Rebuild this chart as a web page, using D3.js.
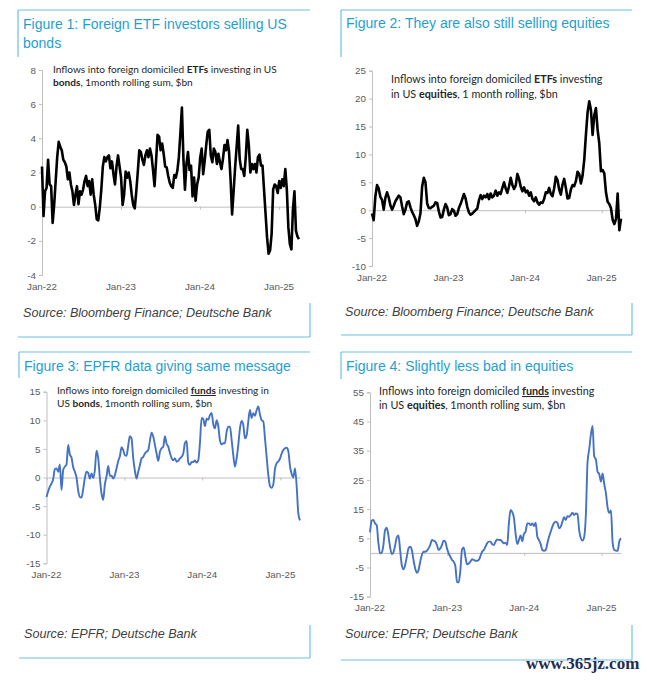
<!DOCTYPE html>
<html><head><meta charset="utf-8">
<script src="https://cdn.jsdelivr.net/npm/d3@7/dist/d3.min.js"></script>
<style>body{margin:0;background:#fff;} svg{display:block;}</style>
</head><body><svg id="c" width="648" height="680"></svg>
<script>
// ---------- DATA ----------
const startDate = new Date(2022, 0, 1);
const endDate = new Date(2025, 3, 3);
const xTickLabels = ["Jan-22", "Jan-23", "Jan-24", "Jan-25"];
const xTickDates = [new Date(2022,0,1), new Date(2023,0,1), new Date(2024,0,1), new Date(2025,0,1)];

const panelTitles = [
  ["Figure 1: Foreign ETF investors selling US", "bonds"],
  ["Figure 2: They are also still selling equities"],
  ["Figure 3: EPFR data giving same message"],
  ["Figure 4: Slightly less bad in equities"]
];
const panelSources = [
  "Source: Bloomberg Finance; Deutsche Bank",
  "Source: Bloomberg Finance; Deutsche Bank",
  "Source: EPFR; Deutsche Bank",
  "Source: EPFR; Deutsche Bank"
];

const yTicksEtfBonds = [-4, -2, 0, 2, 4, 6, 8];
const yTicksEtfEquities = [-10, -5, 0, 5, 10, 15, 20, 25];
const yTicksFundBonds = [-15, -10, -5, 0, 5, 10, 15];
const yTicksFundEquities = [-15, -5, 5, 15, 25, 35, 45, 55];

// Figure 1: foreign ETFs, US bonds, 1m rolling sum $bn (weekly readings)
const etfBondFlows = [
  2.35,-0.55,0.9,1.1,2.75,1.3,1.2,-0.95,0.1,1.5,
  2.9,3.8,3.5,3.3,2.75,2.6,2.35,1.6,2.0,1.3,
  0.9,0.1,0.7,1.2,0.15,0.9,0.7,1.0,1.5,1.8,
  1.2,1.5,0.7,1.6,0.7,0.1,-0.75,-0.8,-0.05,1.0,
  2.35,2.9,2.65,2.9,3.0,2.25,2.65,1.9,1.3,2.35,
  3.0,2.35,1.7,0.1,0.7,2.05,1.7,2.0,1.5,0.7,
  0.1,-0.1,0.9,2.05,3.3,3.2,2.75,2.45,3.0,3.3,
  2.9,3.4,3.0,2.15,1.2,2.65,4.2,4.1,3.3,3.7,
  3.1,2.35,
  2.3,1.8,1.4,1.2,1.1,1.85,1.7,2.1,2.9,4.3,
  5.8,2.8,1.0,2.5,3.2,2.15,2.4,0.6,1.7,0.35,
  1.3,1.7,2.85,3.4,1.9,2.7,3.6,4.4,4.5,3.0,
  2.6,3.4,3.2,2.5,3.1,2.6,2.2,2.8,3.6,3.3,
  3.9,3.2,1.6,-0.45,0.9,2.3,3.5,4.75,2.8,2.2,
  2.2,1.8,2.9,4.5,3.6,2.0,2.5,2.2,2.5,2.0,
  2.9,3.05,2.4,2.4,1.0,-0.4,-1.8,-2.75,-2.55,-1.6,
  1.0,1.3,1.2,0.8,1.5,1.1,1.6,1.2,2.2,1.0,
  -1.2,-2.2,-2.5,-0.2,0.9,-1.4,-1.75,-1.9
];

// Figure 2: foreign ETFs, US equities, 1m rolling $bn
const etfEquityFlows = [
  -0.6,-1.8,2.4,4.5,3.9,2.4,1.85,0.1,2.2,3.2,
  2.3,0.9,0.1,0.8,1.6,2.1,2.6,2.3,0.7,-0.7,
  0.1,1.4,1.6,0.5,-0.3,-0.9,-1.6,-2.8,-2.0,-0.55,
  4.25,5.8,5.0,1.2,0.4,0.35,0.6,0.8,1.4,1.3,
  -0.2,-1.3,-1.2,0.1,1.1,0.5,-0.9,-0.7,0.2,-0.1,
  -1.0,-0.7,0.4,1.1,2.0,2.9,2.1,0.6,-0.4,-0.8,
  -0.6,-0.3,0,0.3,1.8,2.7,2.0,2.6,2.3,2.9,
  2.0,3.0,2.3,2.6,3.5,2.6,3.2,2.9,4.0,5.0,
  3.9,3.1,4.3,5.8,4.5,3.8,4.4,6.5,5.6,4.2,
  3.4,4.1,3.2,3.5,2.6,3.2,2.0,1.6,2.3,1.4,
  1.0,1.4,1.3,2.0,3.2,3.1,4.0,2.9,2.5,3.9,
  6.0,5.4,3.7,2.8,4.6,5.6,4.0,2.1,2.2,3.7,
  4.5,4.3,5.2,6.9,6.5,4.8,6.2,9.0,13.5,17.5,
  19.5,18.0,13.5,17.0,18.3,14.4,12.0,7.0,7.2,6.6,
  3.2,1.5,1.1,0.35,-1.7,-2.5,-1.6,3.0,-3.6,-1.5
];

// Figure 3: EPFR foreign funds, US bonds, 1m rolling sum $bn
const fundBondFlows = [
  -3.4,-2.4,-1.6,-1.05,-0.3,1.5,1.6,1.0,2.3,-2.2,
  1.3,1.9,2.3,5.7,4.0,3.5,1.8,1.0,0.0,-2.3,
  -3.4,-3.5,-2.0,-0.1,1.0,0.8,-0.2,0.7,-0.1,1.3,
  4.7,3.4,-0.1,-2.8,-3.9,-1.2,0.2,2.0,0.3,0.3,
  -0.2,0.4,1.6,2.9,3.7,5.3,4.8,3.9,3.8,5.6,
  7.2,6.8,3.4,1.2,-0.2,1.0,2.15,3.35,3.6,4.2,
  4.5,4.8,6.4,7.85,7.15,5.7,4.2,2.9,4.5,5.1,
  5.4,7.2,5.9,5.4,4.3,3.4,3.0,
  3.35,2.75,2.9,3.35,3.6,4.2,6.0,6.4,2.6,2.2,
  2.7,2.7,3.0,2.6,3.0,6.0,10.4,10.2,9.0,10.3,
  10.1,10.9,11.3,9.3,8.6,10.0,9.0,6.5,5.8,6.0,
  6.0,8.0,8.9,8.9,6.6,3.9,1.9,3.35,5.7,8.6,
  9.9,9.2,6.85,7.4,9.8,11.8,10.4,11.25,10.8,11.8,
  12.4,11.0,10.0,9.8,6.85,3.6,0.4,-1.5,-1.8,-1.2,
  1.5,2.5,2.8,3.3,4.2,4.8,5.1,5.2,4.6,2.0,
  0.6,0.0,1.6,-1.5,-6.3,-7.5
];

// Figure 4: EPFR foreign funds, US equities, 1m rolling sum $bn
const fundEquityFlows = [
  7.0,11.0,11.3,10.1,9.5,3.5,-0.15,0.1,2.7,7.8,
  8.6,6.0,2.0,-0.4,0.2,2.5,5.3,6.0,1.0,-4.15,
  -5.6,-4.15,-1.3,1.55,2.1,1.0,-2.4,-5.3,-6.8,-5.9,
  -3.0,-0.7,0.4,0.4,0.75,1.55,2.7,4.4,4.2,3.85,
  2.7,1.0,1.55,2.7,4.2,3.85,1.55,-0.15,-1.3,-2.4,
  -3.0,-4.5,-10.0,-10.1,-6.0,1.2,1.9,-1.3,-3.9,-3.6,
  -3.0,-2.2,-2.4,-2.7,-2.7,-2.4,-1.1,0.4,1.0,2.1,
  3.3,3.85,3.85,3.0,2.7,3.85,4.6,4.4,4.4,3.85,
  3.3,3.5,2.7,10.1,14.7,14.0,12.0,6.7,3.0,4.4,
  6.0,4.0,6.5,7.3,10.1,10.1,9.5,10.1,9.2,10.3,
  5.5,4.4,3.0,1.0,0.75,1.0,3.3,5.5,7.3,9.0,
  10.3,10.7,10.3,8.4,9.0,10.7,12.2,11.3,12.6,12.4,
  13.0,13.8,13.0,13.5,13.3,7.8,5.0,4.2,5.5,13.0,
  31.0,35.5,40.5,43.5,33.0,32.0,27.8,27.0,24.4,27.2,
  23.5,20.4,15.5,13.7,14.5,3.5,1.0,0.8,0.7,4.0,
  5.0
];

// ---------- DRAWING ----------
const svg = d3.select("#c");
svg.append("rect").attr("width", 648).attr("height", 680).attr("fill", "#fff");

const FRAME = "#6cc2e2", TITLE = "#1f9fd2", AXIS = "#bfbfbf", TICKTXT = "#595959";

const panels = [
  { values: etfBondFlows, ticks: yTicksEtfBonds, color: "#000", width: 2.6, curve: d3.curveLinear,
    xr: [42, 299], yr: [275, 70], frame: {x0: 18, x1: 310, top: 10, leftBot: 57, bottom: 337, rightTop: 303},
    titleX: 23, titleY: [29, 48], srcY: 317,
    ann: {x: 53, y: [73, 85.5], size: 10.1, lines: [
      [["Inflows into foreign domiciled ", 0], ["ETFs", 1], [" investing in US", 0]],
      [["bonds", 1], [", 1month rolling sum, $bn", 0]]]} },
  { values: etfEquityFlows, ticks: yTicksEtfEquities, color: "#000", width: 2.6, curve: d3.curveLinear,
    xr: [372, 621], yr: [266, 70.7], frame: {x0: 341, x1: 632, top: 10, leftBot: 57, bottom: 335, rightTop: 303},
    titleX: 346, titleY: [28], srcY: 316,
    ann: {x: 391, y: [83, 97.5], size: 10.8, lines: [
      [["Inflows into foreign domiciled ", 0], ["ETFs", 1], [" investing", 0]],
      [["in US ", 0], ["equities", 1], [",  1 month rolling, $bn", 0]]]} },
  { values: fundBondFlows, ticks: yTicksFundBonds, color: "#4472c4", width: 1.9, curve: d3.curveMonotoneX,
    xr: [46.5, 300], yr: [563.3, 391.7], frame: {x0: 19, x1: 310, top: 352, leftBot: 378, bottom: 658, rightTop: 625},
    titleX: 24, titleY: [371], srcY: 638,
    ann: {x: 57, y: [394, 406.5], size: 10.1, lines: [
      [["Inflows into foreign domiciled ", 0], ["funds", 2], [" investing in", 0]],
      [["US ", 0], ["bonds", 1], [", 1month rolling sum, $bn", 0]]]} },
  { values: fundEquityFlows, ticks: yTicksFundEquities, color: "#4472c4", width: 1.9, curve: d3.curveMonotoneX,
    xr: [370, 621], yr: [596.7, 392.3], frame: {x0: 341, x1: 632, top: 352, leftBot: 379, bottom: 660, rightTop: 625},
    titleX: 346, titleY: [371], srcY: 638,
    ann: {x: 379, y: [395, 408.5], size: 10.8, lines: [
      [["Inflows into foreign domiciled ", 0], ["funds", 2], [" investing", 0]],
      [["in US ", 0], ["equities", 1], [", 1month rolling sum, $bn", 0]]]} }
];

panels.forEach((p, i) => {
  const g = svg.append("g");
  const f = p.frame;
  const fl = [[f.x0, f.top, f.x1, f.top], [f.x0, f.top, f.x0, f.leftBot],
              [f.x0, f.bottom, f.x1, f.bottom], [f.x1, f.rightTop, f.x1, f.bottom]];
  fl.forEach(l => g.append("line").attr("x1", l[0]).attr("y1", l[1]).attr("x2", l[2]).attr("y2", l[3])
    .attr("stroke", FRAME).attr("stroke-width", 1.2));
  panelTitles[i].forEach((t, k) => g.append("text").attr("x", p.titleX).attr("y", p.titleY[k])
    .attr("font-family", "Liberation Sans, Arial, sans-serif").attr("font-size", 14)
    .attr("fill", TITLE).text(t));
  g.append("text").attr("x", p.titleX - (i % 2 ? 1 : 0)).attr("y", p.srcY)
    .attr("font-family", "Liberation Sans, Arial, sans-serif").attr("font-size", 12.6)
    .attr("font-style", "italic").attr("fill", "#404040").text(panelSources[i]);

  const x = d3.scaleTime().domain([startDate, endDate]).range(p.xr);
  const y = d3.scaleLinear().domain(d3.extent(p.ticks)).range(p.yr);
  const n = p.values.length;
  const span = endDate - startDate;
  const data = p.values.map((v, k) => ({ date: new Date(+startDate + k * span / (n - 1)), value: v }));

  const ya = g.append("g").attr("transform", `translate(${p.xr[0]},0)`)
    .call(d3.axisLeft(y).tickValues(p.ticks).tickSize(3).tickPadding(3).tickFormat(d => String(d)));
  ya.select(".domain").attr("stroke", AXIS);
  ya.selectAll(".tick line").attr("stroke", AXIS);
  ya.selectAll(".tick text").attr("font-family", "Liberation Sans, Arial, sans-serif")
    .attr("font-size", 9.8).attr("fill", TICKTXT);

  const za = g.append("g").attr("transform", `translate(0,${y(0)})`)
    .call(d3.axisBottom(x).tickValues(xTickDates).tickSize(3).tickSizeOuter(0).tickFormat(""));
  za.select(".domain").attr("stroke", AXIS);
  za.selectAll(".tick line").attr("stroke", AXIS);

  g.selectAll(".xl").data(xTickDates).join("text")
    .attr("x", d => x(d)).attr("y", p.yr[0] + 14.5).attr("text-anchor", "middle")
    .attr("font-family", "Liberation Sans, Arial, sans-serif").attr("font-size", 9.8)
    .attr("fill", TICKTXT).text((d, k) => xTickLabels[k]);

  g.append("path").datum(data)
    .attr("d", d3.line().x(d => x(d.date)).y(d => y(d.value)).curve(p.curve))
    .attr("fill", "none").attr("stroke", p.color).attr("stroke-width", p.width)
    .attr("stroke-linejoin", "round");

  p.ann.lines.forEach((segs, k) => {
    const t = g.append("text").attr("x", p.ann.x).attr("y", p.ann.y[k])
      .attr("font-family", "Lato, Noto Sans, sans-serif").attr("font-size", p.ann.size).attr("fill", "#262626");
    segs.forEach(s => {
      const ts = t.append("tspan").text(s[0]);
      if (s[1] >= 1) ts.attr("font-weight", "bold");
      if (s[1] === 2) ts.attr("text-decoration", "underline");
    });
  });
});

svg.append("text").attr("x", 526).attr("y", 669)
  .attr("font-family", "Liberation Serif, serif").attr("font-weight", "bold").attr("font-size", 17)
  .attr("fill", "#1f2d52").text("www.365jz.com");
</script></body></html>
